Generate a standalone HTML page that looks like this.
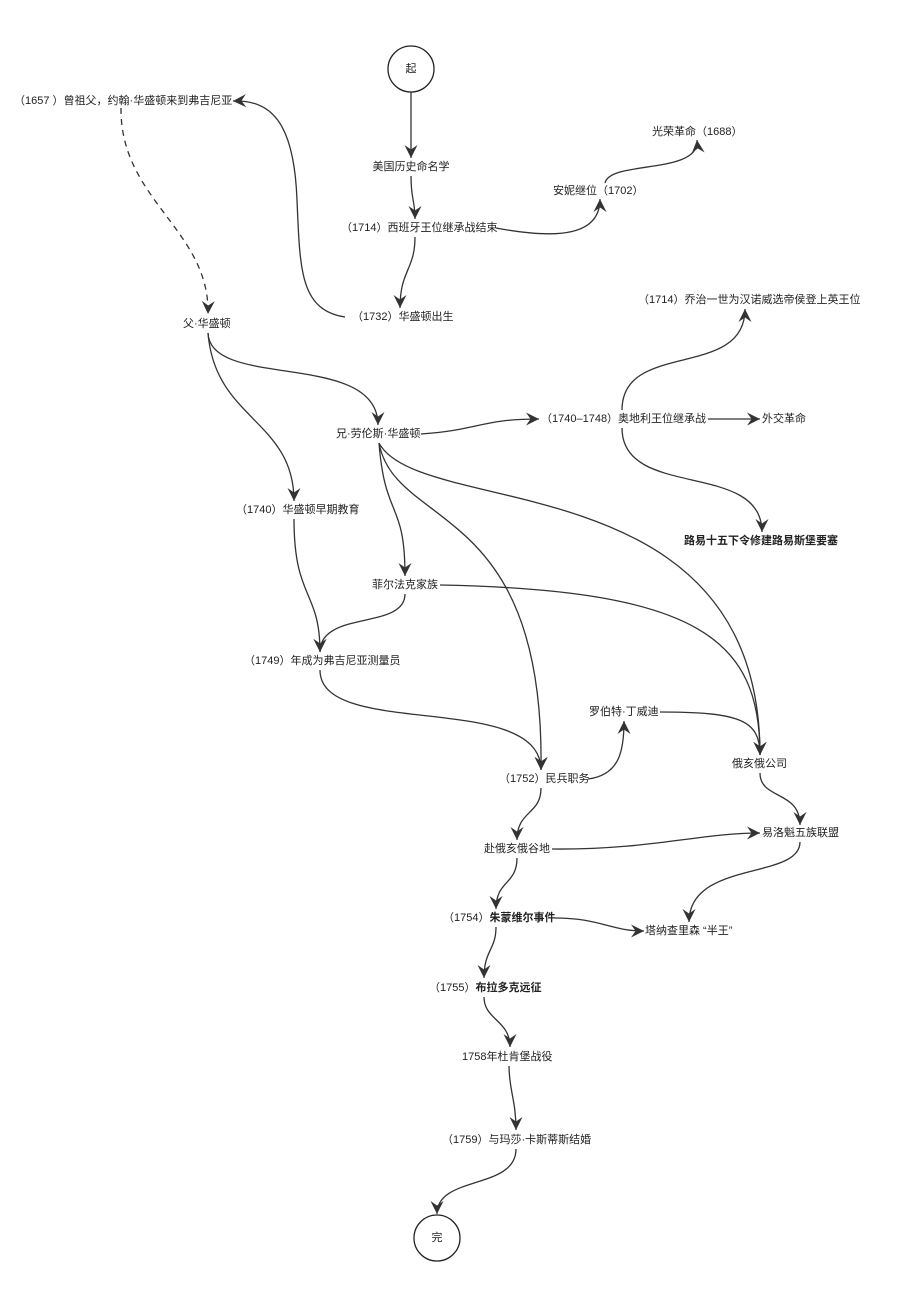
<!DOCTYPE html>
<html><head><meta charset="utf-8"><style>
html,body{margin:0;padding:0;background:#fff;}
svg{display:block;}
text{font-family:"Liberation Sans","Noto Sans CJK SC",sans-serif;font-size:11px;fill:#222;dominant-baseline:middle;}
.b{font-weight:bold;}
path.e{fill:none;stroke:#333;stroke-width:1.3;}
</style></head><body>
<svg width="903" height="1306" viewBox="0 0 903 1306" xmlns="http://www.w3.org/2000/svg">
<defs>
<marker id="a" markerUnits="userSpaceOnUse" markerWidth="13" markerHeight="13" refX="10" refY="5" orient="auto" viewBox="0 0 10 10">
<path d="M0,0 L10,5 L0,10 L3.5,5 z" fill="#333"/>
</marker>
</defs>
<circle cx="411" cy="69" r="23" fill="#fff" stroke="#222" stroke-width="1.3"/>
<text x="411" y="69" text-anchor="middle">起</text>
<circle cx="437" cy="1238" r="23" fill="#fff" stroke="#222" stroke-width="1.3"/>
<text x="437" y="1238" text-anchor="middle">完</text>

<g marker-end="url(#a)">
<path class="e" d="M411,92 L411,158"/>
<path class="e" d="M411,176 C411,200 415,200 415,219"/>
<path class="e" d="M415,237 C415,270 400,270 400,308"/>
<path class="e" d="M345,317 C300,310 300,270 297,200 C294,120 270,100 233,101"/>
<path class="e" d="M121,108 C120,200 210,230 208,314" stroke-dasharray="6,5"/>
<path class="e" d="M496,228 C560,240 600,235 600,199"/>
<path class="e" d="M605,183 C610,160 700,175 697,140"/>
<path class="e" d="M208,333 C210,390 378,350 378,425"/>
<path class="e" d="M208,333 C215,420 294,420 294,501"/>
<path class="e" d="M421,434 C480,430 480,419 539,419"/>
<path class="e" d="M708,419 L760,419"/>
<path class="e" d="M622,410 C622,340 745,380 745,309"/>
<path class="e" d="M622,428 C622,500 762,460 762,532"/>
<path class="e" d="M379,443 C385,520 405,500 405,576"/>
<path class="e" d="M379,443 C395,530 545,500 541,770"/>
<path class="e" d="M379,443 C420,520 760,460 760,755"/>
<path class="e" d="M440,585 C700,590 760,640 760,755"/>
<path class="e" d="M405,594 C405,630 320,610 320,652"/>
<path class="e" d="M294,519 C294,600 320,590 320,652"/>
<path class="e" d="M320,670 C320,740 541,690 541,770"/>
<path class="e" d="M588,779 C620,775 624,750 624,721"/>
<path class="e" d="M660,712 C740,712 760,720 760,755"/>
<path class="e" d="M760,773 C760,800 800,790 800,825"/>
<path class="e" d="M541,788 C541,815 517,810 517,840"/>
<path class="e" d="M552,849 C650,850 700,833 760,833"/>
<path class="e" d="M800,842 C800,880 689,860 689,922"/>
<path class="e" d="M517,858 C517,885 496,880 496,909"/>
<path class="e" d="M555,918 C600,918 610,931 644,931"/>
<path class="e" d="M496,927 C496,950 484,950 484,978"/>
<path class="e" d="M484,997 C484,1020 510,1020 510,1047"/>
<path class="e" d="M509,1066 C509,1090 516,1100 516,1130"/>
<path class="e" d="M516,1149 C516,1190 437,1175 437,1214"/>
</g>

<text x="411" y="167" text-anchor="middle">美国历史命名学</text>
<text x="341" y="228">（1714）西班牙王位继承战结束</text>
<text x="352" y="317">（1732）华盛顿出生</text>
<text x="14" y="101">（1657 ）曾祖父，约翰·华盛顿来到弗吉尼亚</text>
<text x="183" y="324">父·华盛顿</text>
<text x="553" y="191">安妮继位（1702）</text>
<text x="652" y="132">光荣革命（1688）</text>
<text x="638" y="300">（1714）乔治一世为汉诺威选帝侯登上英王位</text>
<text x="336" y="434">兄·劳伦斯·华盛顿</text>
<text x="541" y="419">（1740–1748）奥地利王位继承战</text>
<text x="762" y="419">外交革命</text>
<text x="684" y="541" class="b">路易十五下令修建路易斯堡要塞</text>
<text x="236" y="510">（1740）华盛顿早期教育</text>
<text x="372" y="585">菲尔法克家族</text>
<text x="244" y="661">（1749）年成为弗吉尼亚测量员</text>
<text x="589" y="712">罗伯特·丁威迪</text>
<text x="732" y="764">俄亥俄公司</text>
<text x="499" y="779">（1752）民兵职务</text>
<text x="484" y="849">赴俄亥俄谷地</text>
<text x="762" y="833">易洛魁五族联盟</text>
<text x="443" y="918">（1754）<tspan class="b">朱蒙维尔事件</tspan></text>
<text x="645" y="931">塔纳查里森 “半王”</text>
<text x="429" y="988">（1755）<tspan class="b">布拉多克远征</tspan></text>
<text x="462" y="1057">1758年杜肯堡战役</text>
<text x="442" y="1140">（1759）与玛莎·卡斯蒂斯结婚</text>
</svg>
</body></html>
